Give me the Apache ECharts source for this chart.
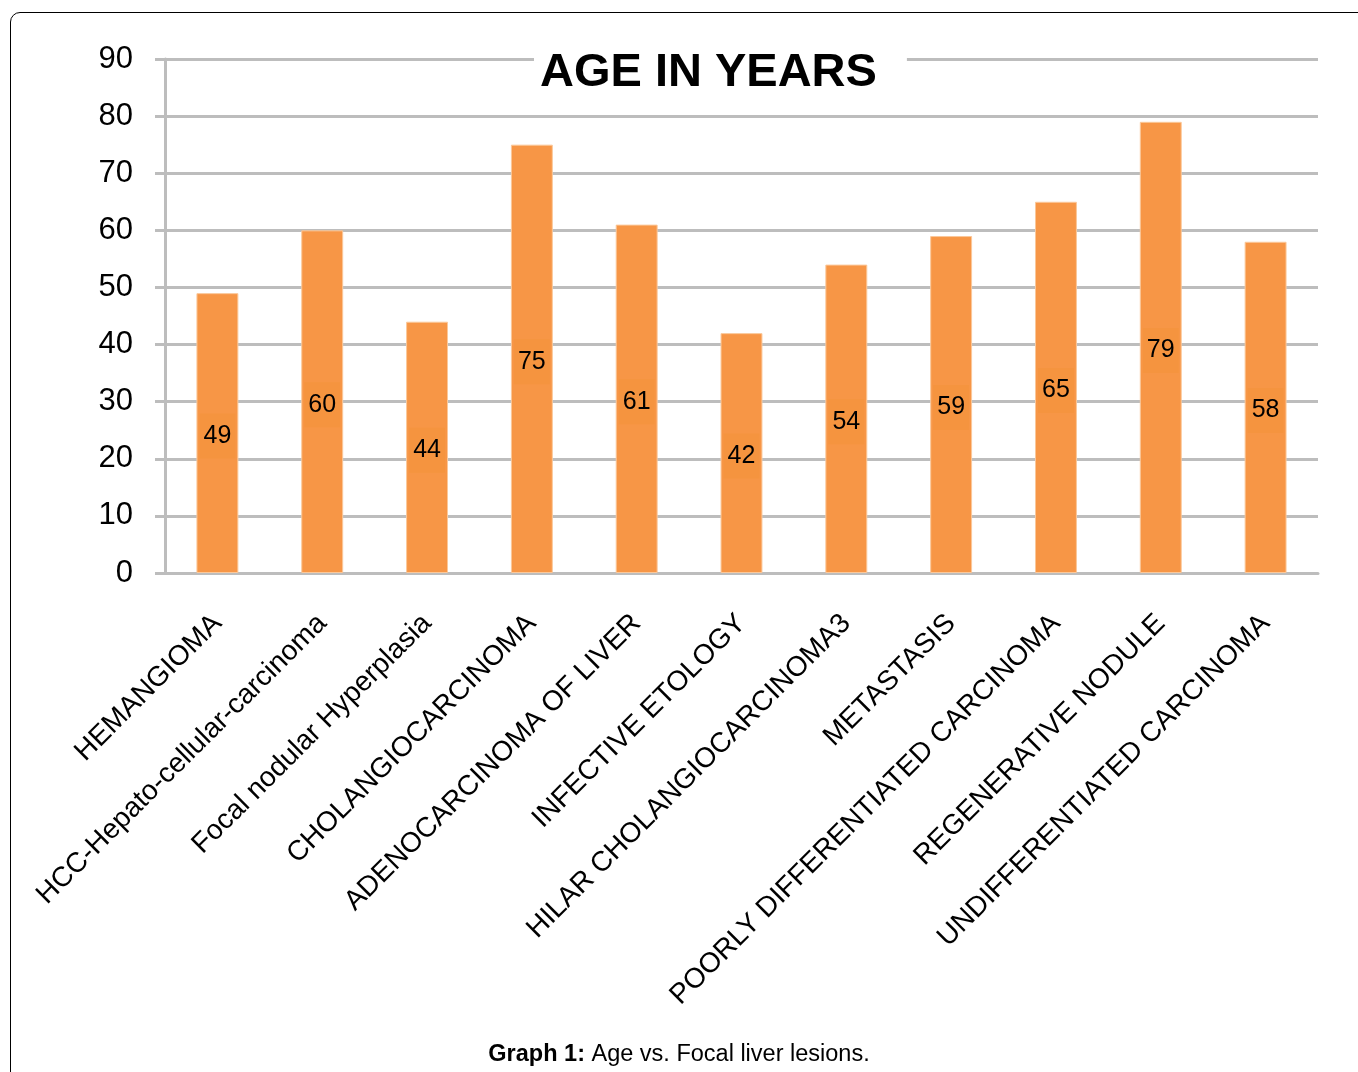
<!DOCTYPE html>
<html>
<head>
<meta charset="utf-8">
<script src="https://cdn.jsdelivr.net/npm/echarts@6/dist/echarts.min.js"></script>
<style>
html,body{margin:0;padding:0;background:#fff;}
#frame{position:absolute;left:10px;top:12px;width:1400px;height:1100px;border:1px solid #000;border-radius:10px;box-sizing:border-box;}
#chart{position:absolute;left:0;top:0;width:1358px;height:1072px;}
</style>
</head>
<body>
<div id="frame"></div>
<div id="chart"></div>
<script>
const categories = ["HEMANGIOMA","HCC-Hepato-cellular-carcinoma","Focal nodular Hyperplasia","CHOLANGIOCARCINOMA","ADENOCARCINOMA OF LIVER","INFECTIVE ETOLOGY","HILAR CHOLANGIOCARCINOMA3","METASTASIS","POORLY DIFFERENTIATED CARCINOMA","REGENERATIVE NODULE","UNDIFFERENTIATED CARCINOMA"];
const ageValues = [49,60,44,75,61,42,54,59,65,79,58];
const yTicks = [0,10,20,30,40,50,60,70,80,90];
const chartTitle = "AGE IN YEARS";
const captionBold = "Graph 1:";
const captionText = " Age vs. Focal liver lesions.";

const font = "'Liberation Sans', Arial, sans-serif";
const grid = '#bdbdbd';
const chart = echarts.init(document.getElementById('chart'));
chart.setOption({
  animation:false,
  textStyle:{fontFamily:font},
  title:[{
    text: chartTitle,
    left: 534, top: 44,
    padding:[6,30,10,6],
    backgroundColor:'#fff',
    textStyle:{fontSize:47,fontWeight:'bold',color:'#000',fontFamily:font}
  },{
    text: '{b|'+captionBold+'}{r|'+captionText+'}',
    left:'center', top:1038,
    textStyle:{fontWeight:'normal',rich:{
      b:{fontSize:23.5,fontWeight:'bold',color:'#000',fontFamily:font},
      r:{fontSize:23.5,fontWeight:'normal',color:'#000',fontFamily:font}
    }}
  }],
  grid:{left:165,right:40,top:59,bottom:499,containLabel:false},
  xAxis:{
    type:'category',
    data:categories,
    axisLine:{show:true,lineStyle:{color:grid,width:3}},
    axisTick:{show:false},
    axisLabel:{rotate:45,interval:0,margin:46,fontSize:28,color:'#000',fontFamily:font}
  },
  yAxis:{
    type:'value',min:yTicks[0],max:yTicks[yTicks.length-1],interval:10,
    axisLine:{show:true,lineStyle:{color:grid,width:3}},
    axisTick:{show:true,length:10,lineStyle:{color:grid,width:3}},
    splitLine:{show:true,lineStyle:{color:grid,width:3}},
    axisLabel:{fontSize:31,color:'#000',margin:32,fontFamily:font}
  },
  series:[{
    type:'bar',
    data:ageValues,
    barWidth:'40%',
    itemStyle:{color:'#f79646',borderColor:'#fbc89a',borderWidth:1},
    label:{show:true,position:'inside',offset:[0,3],fontSize:25,color:'#000',fontFamily:font,
      backgroundColor:'#f5943f',padding:[10,4,10,4]}
  }]
});
</script>
</body>
</html>
